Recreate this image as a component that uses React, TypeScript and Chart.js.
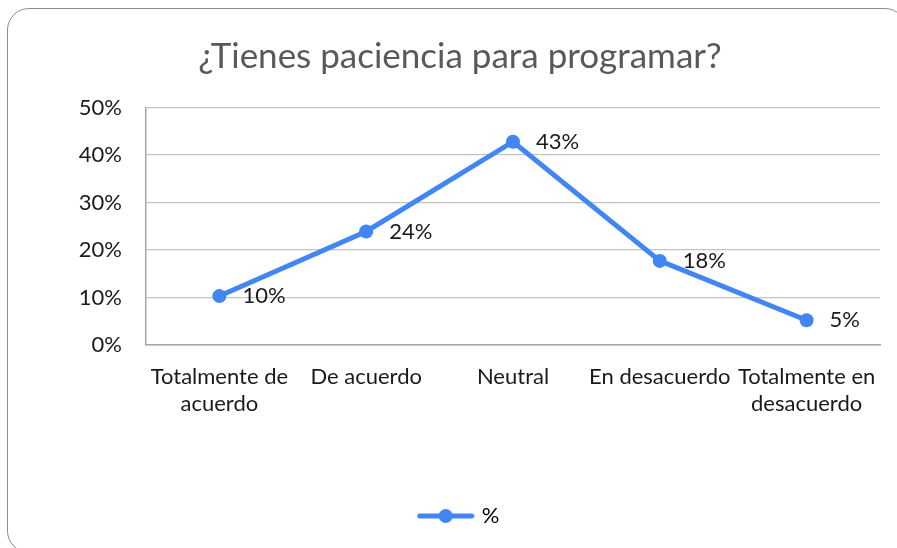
import React, { useEffect, useRef } from "react";
import { Chart, registerables } from "chart.js";

Chart.register(...registerables);

// ---- data ----
const titleText = "¿Tienes paciencia para programar?";
const categories: (string | string[])[] = [
  ["Totalmente de", "acuerdo"],
  "De acuerdo",
  "Neutral",
  "En desacuerdo",
  ["Totalmente en", "desacuerdo"],
];
const values = [10.3, 23.9, 42.8, 17.7, 5.2];
const valueLabels = ["10%", "24%", "43%", "18%", "5%"];
const yTickValues = [0, 10, 20, 30, 40, 50];
const seriesName = "%";

// ---- styles ----
const FONT = "Lato";
const BLUE = "#4285f4";
const TICK_SIZE = 22;
const TEXT_COLOR = "#1a1a1a";

export default function App() {
  const ref = useRef<HTMLCanvasElement | null>(null);

  useEffect(() => {
    const canvas = ref.current;
    if (!canvas) return;

    const icon = document.createElement("canvas");
    icon.width = 58;
    icon.height = 16;
    const ic = icon.getContext("2d")!;
    ic.strokeStyle = BLUE;
    ic.lineWidth = 5;
    ic.lineCap = "round";
    ic.beginPath();
    ic.moveTo(3, 8);
    ic.lineTo(55, 8);
    ic.stroke();
    ic.fillStyle = BLUE;
    ic.beginPath();
    ic.arc(29, 8, 7, 0, Math.PI * 2);
    ic.fill();

    const labelPlugin = {
      id: "valueLabels",
      afterDatasetsDraw(chart: any) {
        const ctx = chart.ctx;
        const meta = chart.getDatasetMeta(0);
        ctx.save();
        ctx.font = `${TICK_SIZE}px ${FONT}`;
        ctx.fillStyle = TEXT_COLOR;
        ctx.textAlign = "left";
        ctx.textBaseline = "middle";
        meta.data.forEach((pt: any, i: number) => {
          ctx.fillText(valueLabels[i], pt.x + 23, pt.y);
        });
        ctx.restore();
      },
    };

    const chart = new Chart(canvas, {
      type: "line",
      data: {
        labels: categories,
        datasets: [
          {
            label: seriesName,
            data: values,
            borderColor: BLUE,
            backgroundColor: BLUE,
            borderWidth: 5,
            pointRadius: 7,
            pointHoverRadius: 7,
            pointBackgroundColor: BLUE,
            pointBorderWidth: 0,
            tension: 0,
          },
        ],
      },
      options: {
        animation: false,
        responsive: false,
        layout: { padding: { left: 40, right: 17, top: 0, bottom: 11 } },
        plugins: {
          title: {
            display: true,
            text: titleText,
            color: "#595959",
            font: { family: FONT, size: 35, weight: "normal", lineHeight: 1.2 },
            padding: { top: 36, bottom: 29.5 },
          },
          legend: {
            display: true,
            position: "bottom",
            labels: {
              usePointStyle: true,
              pointStyleWidth: 50,
              padding: 10,
              color: TEXT_COLOR,
              font: { family: FONT, size: TICK_SIZE },
              generateLabels: () => [
                {
                  text: seriesName,
                  pointStyle: icon as any,
                  fillStyle: BLUE,
                  strokeStyle: BLUE,
                  lineWidth: 0,
                  hidden: false,
                  datasetIndex: 0,
                } as any,
              ],
            },
          },
          tooltip: { enabled: false },
        },
        scales: {
          x: {
            offset: true,
            grid: { display: false, drawTicks: false },
            border: { display: true, color: "#a6a6a6", width: 1.5 },
            ticks: {
              autoSkip: false,
              maxRotation: 0,
              minRotation: 0,
              padding: 18,
              color: TEXT_COLOR,
              font: { family: FONT, size: TICK_SIZE, lineHeight: 1.23 },
            },
            afterFit: (scale: any) => {
              scale.height = 150;
            },
          },
          y: {
            min: 0,
            max: 50,
            afterBuildTicks: (scale: any) => {
              scale.ticks = yTickValues.map((v) => ({ value: v }));
            },
            grid: { color: "#c3c3c3", lineWidth: 1.3, drawTicks: false },
            border: { display: true, color: "#a6a6a6", width: 1.5 },
            ticks: {
              padding: 24,
              color: TEXT_COLOR,
              font: { family: FONT, size: TICK_SIZE },
              callback: (v: any) => `${v}%`,
            },
            afterFit: (scale: any) => {
              scale.width = 106;
            },
          },
        },
      },
      plugins: [labelPlugin],
    });

    return () => chart.destroy();
  }, []);

  return (
    <div
      style={{
        position: "fixed",
        left: 0,
        top: 0,
        width: 897,
        height: 548,
        overflow: "hidden",
        background: "#ffffff",
      }}
    >
      <div
        style={{
          position: "absolute",
          left: 7,
          top: 8,
          width: 900,
          height: 545,
          boxSizing: "border-box",
          border: "1.5px solid #8c8c8c",
          borderRadius: 22,
        }}
      />
      <canvas
        ref={ref}
        width={897}
        height={548}
        style={{ position: "absolute", left: 0, top: 0, width: 897, height: 548 }}
      />
    </div>
  );
}
